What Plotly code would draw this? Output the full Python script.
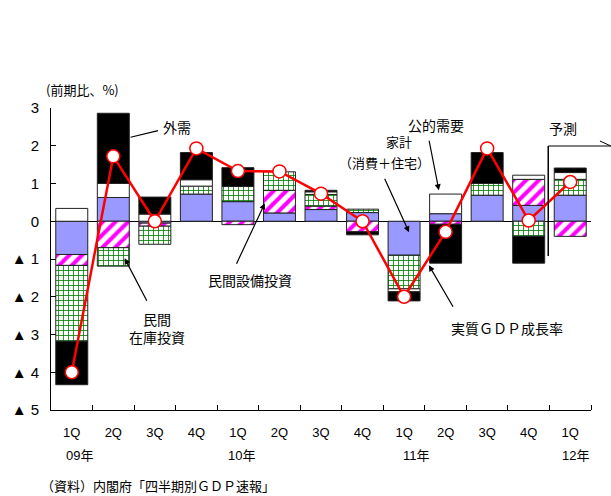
import plotly.graph_objects as go

# ---- data ----
quarters = ["1Q", "2Q", "3Q", "4Q", "1Q", "2Q", "3Q", "4Q", "1Q", "2Q", "3Q", "4Q", "1Q"]
years = ["09年", "10年", "11年", "12年"]
year_pos = [0, 4, 8, 12]
household = [-0.88, 0.63, -0.05, 0.72, 0.52, 0.22, 0.31, 0.23, -0.90, 0.20, 0.69, 0.42, 0.69]
capex = [-0.29, -0.70, -0.08, None, -0.09, 0.60, 0.09, -0.28, None, -0.08, None, 0.69, -0.40]
inventory = [-2.01, -0.49, -0.48, 0.21, 0.40, 0.49, 0.31, 0.09, -0.89, None, 0.31, -0.40, 0.42]
public = [0.34, 0.37, 0.19, 0.17, None, None, 0.07, None, -0.08, 0.52, None, 0.11, 0.18]
external = [-1.15, 1.86, 0.45, 0.72, 0.50, None, 0.04, -0.08, -0.24, -1.03, 0.82, -0.71, 0.12]
gdp = [-4.0, 1.72, 0.0, 1.93, 1.33, 1.32, 0.73, 0.0, -2.0, -0.28, 1.93, 0.02, 1.04]
ytick_vals = [3, 2, 1, 0, -1, -2, -3, -4, -5]
ytick_text = ["3", "2", "1", "0", "▲ 1", "▲ 2", "▲ 3", "▲ 4", "▲ 5"]

x = list(range(len(quarters)))
FONT = "Arial, Liberation Sans, Noto Sans CJK JP"
JP = "Noto Sans CJK JP"
outline = dict(color="#222222", width=1)

fig = go.Figure()
fig.add_trace(go.Bar(x=x, y=household, name="家計", marker=dict(color="#9999FF", line=outline)))
fig.add_trace(go.Bar(x=x, y=capex, name="民間設備投資",
                     marker=dict(color="white", line=outline,
                                 pattern=dict(shape="/", fgcolor="#FF00FF", bgcolor="white",
                                              size=9, solidity=0.45, fillmode="replace",
                                              fgopacity=1))))
fig.add_trace(go.Bar(x=x, y=inventory, name="民間在庫投資",
                     marker=dict(color="white", line=outline,
                                 pattern=dict(shape="+", fgcolor="#008000", bgcolor="white",
                                              size=5, solidity=0.3, fillmode="replace",
                                              fgopacity=1))))
fig.add_trace(go.Bar(x=x, y=public, name="公的需要", marker=dict(color="white", line=outline)))
fig.add_trace(go.Bar(x=x, y=external, name="外需", marker=dict(color="black", line=outline)))
fig.add_trace(go.Scatter(x=x, y=gdp, mode="lines+markers", name="実質GDP成長率",
                         line=dict(color="#FF0000", width=2.5),
                         marker=dict(size=13, color="white", line=dict(color="#FF0000", width=1.5))))

fig.update_layout(
    width=611, height=496,
    margin=dict(l=48, r=20, t=108, b=86),
    barmode="relative", bargap=0.23,
    plot_bgcolor="white", paper_bgcolor="white",
    showlegend=False,
    font=dict(family=FONT, size=13, color="black"),
)
fig.update_xaxes(
    range=[-0.5, 12.5], tickvals=x, ticktext=quarters, ticks="",
    minor=dict(tickvals=[i + 0.5 for i in range(13)], ticks="inside", ticklen=5, tickcolor="black"),
    showline=True, linecolor="black", linewidth=1, showgrid=False, zeroline=False,
    tickfont=dict(size=13, family=FONT), ticklabelstandoff=10,
)
fig.update_yaxes(
    range=[-5, 3], tickvals=ytick_vals, ticktext=ytick_text,
    ticks="inside", ticklen=5, tickcolor="black",
    showline=True, linecolor="black", linewidth=1, showgrid=False,
    zeroline=True, zerolinecolor="black", zerolinewidth=1,
    tickfont=dict(size=15, family=FONT), ticklabelstandoff=8,
)


def pxp(px):
    return (px - 48) / 543


def pyp(py):
    return (410 - py) / 302


ann = []
# year labels
for yl, xp, sh in zip(years, year_pos, [8, 4, 12, 5]):
    ann.append(dict(x=xp, y=pyp(455), xref="x", yref="paper", text=yl, showarrow=False,
                    xshift=sh, yanchor="middle", xanchor="center", font=dict(size=13, family=FONT)))
# unit label
ann.append(dict(x=pxp(80), y=pyp(90), xref="paper", yref="paper", text="(前期比、%)", showarrow=False,
                xanchor="center", yanchor="middle", font=dict(size=13, family=JP)))
# source
ann.append(dict(x=pxp(36), y=pyp(485), xref="paper", yref="paper",
                text="（資料）内閣府「四半期別ＧＤＰ速報」", showarrow=False, xanchor="left",
                yanchor="middle", font=dict(size=13, family=JP)))


def px2x(px):
    return (px - 48) / (543 / 13) - 0.5


def py2y(py):
    return (221 - py) / (302 / 8)


def label(px, py, text, size=14):
    ann.append(dict(x=px2x(px), y=py2y(py), xref="x", yref="y", text=text, showarrow=False,
                    xanchor="center", yanchor="middle", font=dict(size=size, family=JP)))


def arrow(hx, hy, tx, ty, head=2):
    ann.append(dict(x=px2x(hx), y=py2y(hy), xref="x", yref="y", text="", showarrow=True,
                    ax=tx - hx, ay=ty - hy, arrowhead=head, arrowsize=1, arrowwidth=1.2,
                    arrowcolor="black", standoff=0, startstandoff=0))


label(175, 127, "外需")
arrow(128, 137, 157, 130, head=0)
label(155, 328, "民間<br>在庫投資")
arrow(122, 258, 145, 302)
label(248, 280, "民間設備投資")
arrow(263, 203, 234, 265)
label(398, 141, "家計", size=13)
label(383, 162, "（消費＋住宅）", size=13)
arrow(408, 232, 383, 177)
label(435, 125, "公的需要")
arrow(438, 190, 428, 139)
label(507, 328, "実質ＧＤＰ成長率")
arrow(428, 265, 453, 308)
label(563, 128, "予測")

fig.update_layout(annotations=ann)

shapes = [
    dict(type="line", xref="paper", yref="paper", x0=pxp(548), x1=pxp(548), y0=pyp(146), y1=pyp(256),
         line=dict(color="black", width=1.5)),
    dict(type="line", xref="paper", yref="paper", x0=pxp(548), x1=pxp(611), y0=pyp(146), y1=pyp(146),
         line=dict(color="black", width=1)),
    dict(type="line", xref="paper", yref="paper", x0=pxp(600), x1=pxp(611), y0=pyp(141), y1=pyp(146),
         line=dict(color="black", width=1)),
]
fig.update_layout(shapes=shapes)

fig.write_html("out.html")
